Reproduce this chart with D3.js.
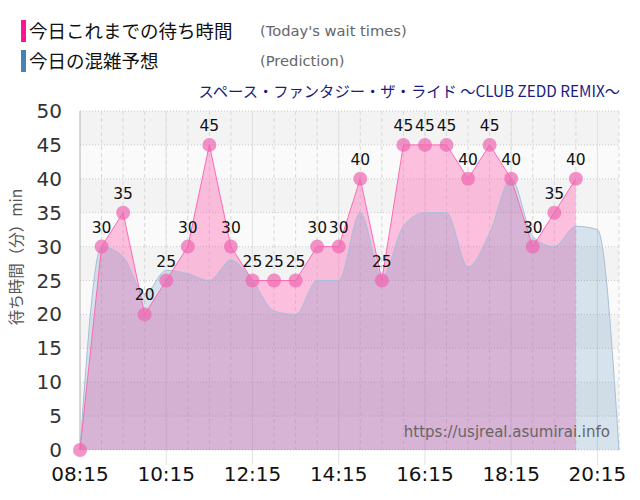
<!DOCTYPE html>
<html>
<head>
<meta charset="utf-8">
<script src="https://cdn.jsdelivr.net/npm/d3@7"></script>
<style>
  body { margin: 0; background: #fff; }
  svg { display: block; }
</style>
</head>
<body>
<script>
const actualTimes = ['08:15','08:45','09:15','09:45','10:15','10:45','11:15','11:45','12:15','12:45','13:15','13:45',
  '14:15','14:45','15:15','15:45','16:15','16:45','17:15','17:45','18:15','18:45','19:15','19:45'];
const actualWaits = [0,30,35,20,25,30,45,30,25,25,25,30,30,40,25,45,45,45,40,45,40,30,35,40];

const predTimes = ['08:15','08:45','09:15','09:45','10:15','10:45','11:15','11:45','12:15','12:45','13:15','13:45',
  '14:15','14:45','15:15','15:45','16:15','16:45','17:15','17:45','18:15','18:45','19:15','19:45','20:15','20:45'];
const predWaits = [0,30,28.5,23,26.5,26,25,28,25,20.5,20,25,25,35,25.5,33,35,35,27,32,40,31.5,30,33,32.5,0];

const xTickLabels = ['08:15','10:15','12:15','14:15','16:15','18:15','20:15'];
const yTicks = [0,5,10,15,20,25,30,35,40,45,50];

const width = 640;
const height = 500;
const toMin = s => { const [h, m] = s.split(':').map(Number); return h * 60 + m; };

const x = d3.scaleLinear().domain([toMin('08:15'), toMin('20:45')]).range([80, 619]);
const y = d3.scaleLinear().domain([0, 50]).range([450, 111]);

const actual = actualTimes.map((t, i) => ({ t: toMin(t), v: actualWaits[i] }));
const pred = predTimes.map((t, i) => ({ t: toMin(t), v: predWaits[i] }));

const svg = d3.select('body').append('svg')
  .attr('width', width)
  .attr('height', height);

// background bands
svg.append('g')
  .selectAll('rect')
  .data(yTicks.slice(0, -1))
  .join('rect')
    .attr('x', x.range()[0])
    .attr('width', x.range()[1] - x.range()[0])
    .attr('y', d => y(d + 5))
    .attr('height', d => y(d) - y(d + 5))
    .attr('fill', (d, i) => i % 2 ? '#f3f3f3' : '#fafafa');

// vertical dashed grid every 30 min
const halfHours = d3.range(toMin('08:45'), toMin('20:45') + 1, 30);
svg.append('g')
  .selectAll('line')
  .data(halfHours)
  .join('line')
    .attr('x1', d => x(d)).attr('x2', d => x(d))
    .attr('y1', y(50)).attr('y2', y(0))
    .attr('stroke', '#d8d8d8')
    .attr('stroke-dasharray', '4,3');

// tick lines at labels
svg.append('g')
  .selectAll('line')
  .data(xTickLabels.slice(1))
  .join('line')
    .attr('x1', d => x(toMin(d))).attr('x2', d => x(toMin(d)))
    .attr('y1', y(50)).attr('y2', 465)
    .attr('stroke', '#e2e2e2');

// horizontal dotted grid
svg.append('g')
  .selectAll('line')
  .data(yTicks)
  .join('line')
    .attr('x1', x.range()[0]).attr('x2', x.range()[1])
    .attr('y1', d => y(d)).attr('y2', d => y(d))
    .attr('stroke', '#c8c8c8')
    .attr('stroke-dasharray', '1,2');

// left axis line
svg.append('line')
  .attr('x1', 80).attr('x2', 80)
  .attr('y1', y(50)).attr('y2', y(0))
  .attr('stroke', '#b0b0b0');

// actual area
const areaActual = d3.area().x(d => x(d.t)).y0(y(0)).y1(d => y(d.v));
const lineActual = d3.line().x(d => x(d.t)).y(d => y(d.v));

svg.append('path')
  .datum(actual)
  .attr('d', areaActual)
  .attr('fill', '#ff69b4')
  .attr('fill-opacity', 0.4);

// prediction area
const areaPred = d3.area().curve(d3.curveMonotoneX).x(d => x(d.t)).y0(y(0)).y1(d => y(d.v));
const linePred = d3.line().curve(d3.curveMonotoneX).x(d => x(d.t)).y(d => y(d.v));

svg.append('path')
  .datum(pred)
  .attr('d', areaPred)
  .attr('fill', '#4682b4')
  .attr('fill-opacity', 0.2);

svg.append('path')
  .datum(pred)
  .attr('d', linePred)
  .attr('fill', 'none')
  .attr('stroke', '#a6c0d8')
  .attr('stroke-width', 1);

svg.append('path')
  .datum(actual)
  .attr('d', lineActual)
  .attr('fill', 'none')
  .attr('stroke', '#ff69b4')
  .attr('stroke-width', 1);

// markers
svg.append('g')
  .selectAll('circle')
  .data(actual)
  .join('circle')
    .attr('cx', d => x(d.t))
    .attr('cy', d => y(d.v))
    .attr('r', 7)
    .attr('fill', '#ee66b0')
    .attr('fill-opacity', 0.7);

// value labels
svg.append('g')
  .selectAll('text')
  .data(actual.filter(d => d.v > 0))
  .join('text')
    .attr('x', d => x(d.t))
    .attr('y', d => y(d.v) - 14)
    .attr('text-anchor', 'middle')
    .attr('font-family', 'DejaVu Sans, sans-serif')
    .attr('font-size', 15.5)
    .attr('fill', '#111')
    .text(d => d.v);

// y tick labels
svg.append('g')
  .selectAll('text')
  .data(yTicks)
  .join('text')
    .attr('x', 62)
    .attr('y', d => y(d) + 7)
    .attr('text-anchor', 'end')
    .attr('font-family', 'DejaVu Sans, sans-serif')
    .attr('font-size', 20)
    .attr('fill', '#333')
    .text(d => d);

// x tick labels
svg.append('g')
  .selectAll('text')
  .data(xTickLabels)
  .join('text')
    .attr('x', d => x(toMin(d)))
    .attr('y', 481)
    .attr('text-anchor', 'middle')
    .attr('font-family', 'DejaVu Sans, sans-serif')
    .attr('font-size', 20)
    .attr('fill', '#111')
    .text(d => d);

// y axis title
svg.append('text')
  .attr('transform', 'translate(22,257) rotate(-90)')
  .attr('text-anchor', 'middle')
  .attr('font-family', 'Noto Sans CJK JP, sans-serif')
  .attr('font-size', 15.5)
  .attr('fill', '#555')
  .text('待ち時間（分）min');

// legend
const legend = [
  { color: '#ff1493', ja: '今日これまでの待ち時間', en: "(Today's wait times)", y: 20 },
  { color: '#4682b4', ja: '今日の混雑予想', en: '(Prediction)', y: 50 }
];
const lg = svg.append('g').selectAll('g').data(legend).join('g');
lg.append('rect')
  .attr('x', 21).attr('y', d => d.y)
  .attr('width', 5).attr('height', 22)
  .attr('fill', d => d.color);
lg.append('text')
  .attr('x', 29).attr('y', d => d.y + 18)
  .attr('font-family', 'Noto Sans CJK JP, sans-serif')
  .attr('font-size', 18.5)
  .attr('fill', '#111')
  .text(d => d.ja);
lg.append('text')
  .attr('x', 260).attr('y', d => d.y + 16)
  .attr('font-family', 'DejaVu Sans, sans-serif')
  .attr('font-size', 14.7)
  .attr('fill', '#666')
  .text(d => d.en);

// ride title
svg.append('text')
  .attr('x', 620).attr('y', 97)
  .attr('text-anchor', 'end')
  .attr('font-family', 'Noto Sans CJK JP, sans-serif')
  .attr('font-size', 15.3)
  .attr('fill', '#1c1c80')
  .text('スペース・ファンタジー・ザ・ライド ～CLUB ZEDD REMIX～');

// watermark
svg.append('text')
  .attr('x', 610).attr('y', 437)
  .attr('text-anchor', 'end')
  .attr('font-family', 'DejaVu Sans, sans-serif')
  .attr('font-size', 15)
  .attr('fill', '#666')
  .text('https://usjreal.asumirai.info');
</script>
</body>
</html>
